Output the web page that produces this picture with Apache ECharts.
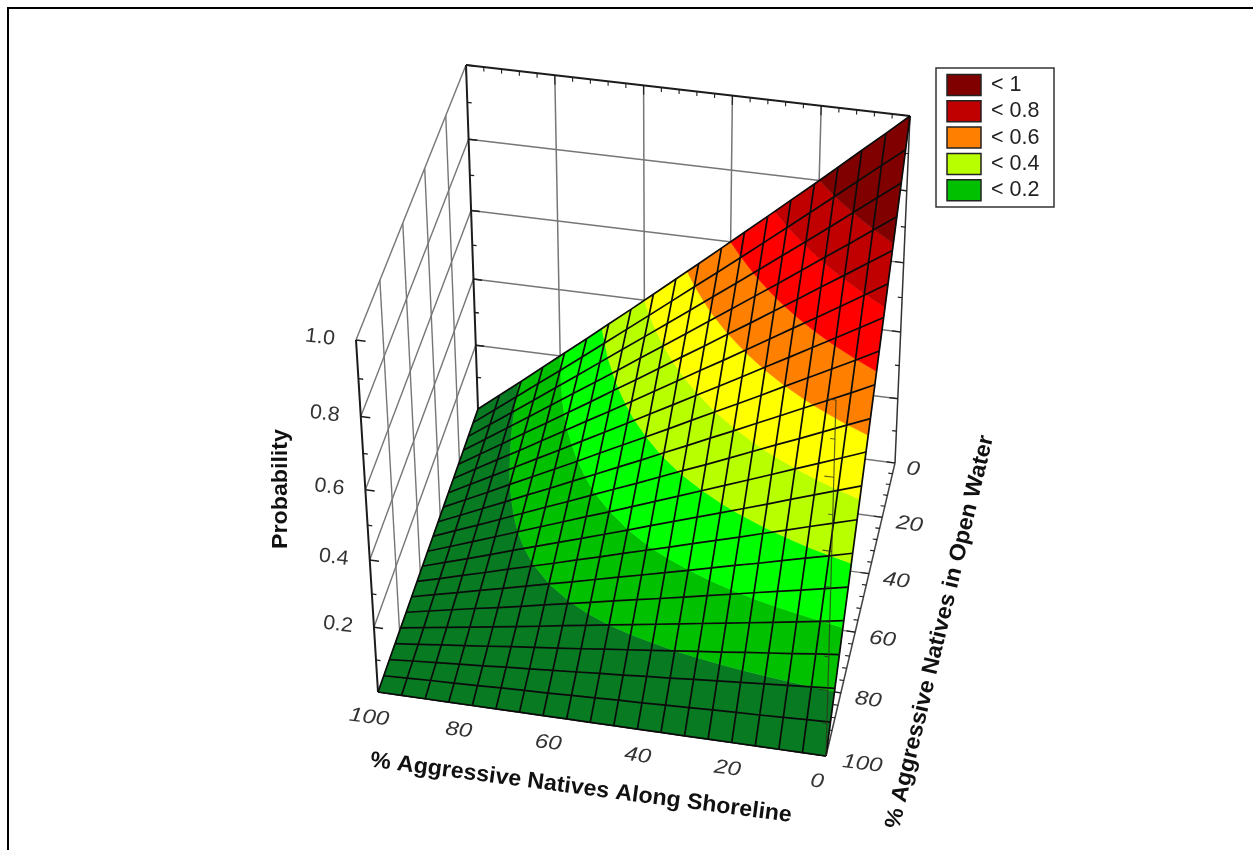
<!DOCTYPE html>
<html>
<head>
<meta charset="utf-8">
<style>html,body{margin:0;padding:0;background:#fff}#c{width:1253px;height:850px}</style>
<script src="https://cdn.jsdelivr.net/npm/echarts@6/dist/echarts.min.js"></script>
</head>
<body>
<div id="c"></div>
<script>
// ---- data ----
const shoreGrid = [0,5.26,10.53,15.79,21.05,26.32,31.58,36.84,42.11,47.37,52.63,57.89,63.16,68.42,73.68,78.95,84.21,89.47,94.74,100];
const waterGrid = [0,5.26,10.53,15.79,21.05,26.32,31.58,36.84,42.11,47.37,52.63,57.89,63.16,68.42,73.68,78.95,84.21,89.47,94.74,100];
// rows: waterGrid, columns: shoreGrid
const probability = [
[1.000,.947,.895,.842,.789,.737,.684,.632,.579,.526,.474,.421,.368,.316,.263,.211,.158,.105,.053,0],
[.947,.898,.848,.798,.748,.698,.648,.598,.548,.499,.449,.399,.349,.299,.249,.199,.150,.100,.050,0],
[.895,.848,.801,.753,.706,.659,.612,.565,.518,.471,.424,.377,.330,.283,.235,.188,.141,.094,.047,0],
[.842,.798,.753,.709,.665,.620,.576,.532,.488,.443,.399,.355,.310,.266,.222,.177,.133,.089,.044,0],
[.789,.748,.706,.665,.623,.582,.540,.499,.457,.416,.374,.332,.291,.249,.208,.166,.125,.083,.042,0],
[.737,.698,.659,.620,.582,.543,.504,.465,.427,.388,.349,.310,.271,.233,.194,.155,.116,.078,.039,0],
[.684,.648,.612,.576,.540,.504,.468,.432,.396,.360,.324,.288,.252,.216,.180,.144,.108,.072,.036,0],
[.632,.598,.565,.532,.499,.465,.432,.399,.366,.332,.299,.266,.233,.199,.166,.133,.100,.066,.033,0],
[.579,.548,.518,.488,.457,.427,.396,.366,.335,.305,.274,.244,.213,.183,.152,.122,.091,.061,.030,0],
[.526,.499,.471,.443,.416,.388,.360,.332,.305,.277,.249,.222,.194,.166,.139,.111,.083,.055,.028,0],
[.474,.449,.424,.399,.374,.349,.324,.299,.274,.249,.224,.199,.175,.150,.125,.100,.075,.050,.025,0],
[.421,.399,.377,.355,.332,.310,.288,.266,.244,.222,.199,.177,.155,.133,.111,.089,.066,.044,.022,0],
[.368,.349,.330,.310,.291,.271,.252,.233,.213,.194,.175,.155,.136,.116,.097,.078,.058,.039,.019,0],
[.316,.299,.283,.266,.249,.233,.216,.199,.183,.166,.150,.133,.116,.100,.083,.066,.050,.033,.017,0],
[.263,.249,.235,.222,.208,.194,.180,.166,.152,.139,.125,.111,.097,.083,.069,.055,.042,.028,.014,0],
[.211,.199,.188,.177,.166,.155,.144,.133,.122,.111,.100,.089,.078,.066,.055,.044,.033,.022,.011,0],
[.158,.150,.141,.133,.125,.116,.108,.100,.091,.083,.075,.066,.058,.050,.042,.033,.025,.017,.008,0],
[.105,.100,.094,.089,.083,.078,.072,.066,.061,.055,.050,.044,.039,.033,.028,.022,.017,.011,.006,0],
[.053,.050,.047,.044,.042,.039,.036,.033,.030,.028,.025,.022,.019,.017,.014,.011,.008,.006,.003,0],
[0,0,0,0,0,0,0,0,0,0,0,0,0,0,0,0,0,0,0,0]
];
const bandBreaks = [0,.1,.2,.3,.4,.5,.6,.7,.8,1.01];
const bandColors = ['#077a22','#00c000','#00ff00','#b8ff00','#ffff00','#ff8000','#ff0000','#c00000','#800000'];
const shoreTicks = [100,80,60,40,20,0];
const waterTicks = [0,20,40,60,80,100];
const probTicks = [0.2,0.4,0.6,0.8,1.0];
const probMinor = [0.1,0.3,0.5,0.7,0.9];
const legendLabels = ['< 1','< 0.8','< 0.6','< 0.4','< 0.2'];
const legendColors = ['#800000','#c00000','#ff8000','#b8ff00','#00c000'];
const titleShore = '% Aggressive Natives Along Shoreline';
const titleWater = '% Aggressive Natives in Open Water';
const titleProb = 'Probability';

// ---- view of the 3D box: [shore=100?][water=100?][top?] ----
const view = {
  '000':[895,463,1.00], '001':[910,116,0.91],
  '010':[826,756,0.91], '011':[836,400,0.82],
  '100':[478,409,1.00], '101':[466,65,0.91],
  '110':[378,692,0.91], '111':[356,340,0.82]
};
function project(s, w, z) {
  const a = s/100, b = w/100;
  let X = 0, Y = 0, H = 0;
  for (const k in view) {
    const c = view[k];
    const wt = (k[0]==='1'?a:1-a)*(k[1]==='1'?b:1-b)*(k[2]==='1'?z:1-z)*c[2];
    X += wt*c[0]; Y += wt*c[1]; H += wt;
  }
  return [X/H, Y/H];
}
function clipBand(poly, lo, hi) {
  function clip(pts, inside, bound) {
    const out = [];
    for (let i=0;i<pts.length;i++) {
      const A = pts[i], B = pts[(i+1)%pts.length];
      const ia = inside(A[2]), ib = inside(B[2]);
      if (ia) out.push(A);
      if (ia !== ib) {
        const t = (bound-A[2])/(B[2]-A[2]);
        out.push([A[0]+t*(B[0]-A[0]),A[1]+t*(B[1]-A[1]),bound]);
      }
    }
    return out;
  }
  let r = clip(poly, v=>v>=lo, lo);
  if (r.length) r = clip(r, v=>v<=hi, hi);
  return r;
}

const FONT = '"Liberation Sans", Arial, sans-serif';
const GRAY = '#767676', DARK = '#1c1c1c';
function seg(api, a, b, color, width) {
  const p = api.coord(project(a[0],a[1],a[2])), q = api.coord(project(b[0],b[1],b[2]));
  return {type:'line', shape:{x1:p[0],y1:p[1],x2:q[0],y2:q[1]}, style:{stroke:color,lineWidth:width}, silent:true};
}
function txt(api, pos, dx, dy, text, o) {
  const p = api.coord(pos);
  return {type:'text', x:p[0]+dx, y:p[1]+dy, rotation:(o.rot||0)*Math.PI/180, scaleX:o.sx||1, silent:true,
    style:{text:text, fontFamily:FONT, fontSize:o.size, fontWeight:o.weight||'normal', fontStyle:o.style||'normal',
      fill:o.fill||'#333', align:o.align||'center', verticalAlign:'middle'}};
}

function renderBox(params, api) {
  const ch = [];
  // back wall (water = 0)
  [80,60,40,20].forEach(s=>ch.push(seg(api,[s,0,0],[s,0,1],GRAY,1.5)));
  probTicks.slice(0,4).forEach(z=>ch.push(seg(api,[100,0,z],[0,0,z],GRAY,1.5)));
  // left wall (shore = 100)
  [20,40,60,80].forEach(w=>ch.push(seg(api,[100,w,0],[100,w,1],GRAY,1.4)));
  probTicks.slice(0,4).forEach(z=>ch.push(seg(api,[100,0,z],[100,100,z],GRAY,1.4)));
  ch.push(seg(api,[100,0,1],[100,100,1],GRAY,1.4));
  // floor
  [20,40,60,80].forEach(w=>ch.push(seg(api,[100,w,0],[0,w,0],GRAY,1.4)));
  ch.push(seg(api,[100,0,0],[0,0,0],GRAY,1.4));
  // frame edges with ticks
  ch.push(seg(api,[100,100,0],[100,100,1],DARK,2));
  ch.push(seg(api,[100,0,0],[100,0,1],DARK,2));
  ch.push(seg(api,[0,0,0],[0,0,1],'#333',1.5));
  ch.push(seg(api,[100,0,1],[0,0,1],DARK,2));
  ch.push(seg(api,[0,0,0],[0,100,0],'#444',1.5));
  ch.push(seg(api,[100,100,0],[0,100,0],DARK,1.6));
  probTicks.forEach(z=>{
    ch.push(seg(api,[100,100,z],[98,100,z],DARK,1.5));
    ch.push(seg(api,[100,0,z],[98,0,z],DARK,1.5));
    ch.push(seg(api,[0,0,z],[2,0,z],DARK,1.2));
  });
  probMinor.forEach(z=>{
    ch.push(seg(api,[100,100,z],[99,100,z],DARK,1.3));
    ch.push(seg(api,[100,0,z],[99,0,z],DARK,1.3));
    ch.push(seg(api,[0,0,z],[1,0,z],DARK,1.1));
  });
  for (let v=0;v<=100;v+=4) {
    ch.push(seg(api,[v,0,1],[v,0,v%20===0?0.975:0.988],DARK,1.1));
    ch.push(seg(api,[0,v,0],[v%20===0?2:1,v,0],DARK,1.1));
  }
  return {type:'group', children:ch};
}
function renderCell(params, api) {
  const i = api.value(0), j = api.value(1);
  const quad = [[i,j],[i+1,j],[i+1,j+1],[i,j+1]].map(q=>[shoreGrid[q[0]],waterGrid[q[1]],probability[q[1]][q[0]]]);
  const ch = [];
  bandColors.forEach((col,b)=>{
    const poly = clipBand(quad, bandBreaks[b], bandBreaks[b+1]);
    if (poly.length>2) ch.push({type:'polygon', silent:true,
      shape:{points:poly.map(v=>api.coord(project(v[0],v[1],v[2])))},
      style:{fill:col, stroke:col, lineWidth:0.5}});
  });
  return {type:'group', children:ch};
}
function renderMesh(params, api) {
  const idx = api.value(0), dir = api.value(1), pts = [];
  for (let k=0;k<20;k++) {
    const s = dir===0 ? shoreGrid[k] : shoreGrid[idx];
    const w = dir===0 ? waterGrid[idx] : waterGrid[k];
    const z = dir===0 ? probability[idx][k] : probability[k][idx];
    pts.push(api.coord(project(s,w,z)));
  }
  return {type:'polyline', silent:true, shape:{points:pts}, style:{stroke:'#0b0b0b', fill:null, lineWidth:1.7}};
}
function renderOver(params, api) {
  const ch = [seg(api,[0,100,0],[0,100,1],'rgba(50,50,30,0.75)',1.2)];
  ch.push(seg(api,[0,100,1],[2,100,1],'rgba(50,50,30,0.75)',1.2));
  probTicks.slice(0,4).forEach(z=>ch.push(seg(api,[0,100,z],[2,100,z],'rgba(50,50,30,0.75)',1.1)));
  probMinor.forEach(z=>ch.push(seg(api,[0,100,z],[1,100,z],'rgba(50,50,30,0.75)',1.0)));
  return {type:'group', children:ch};
}
function renderText(params, api) {
  const ch = [];
  const tick = {size:20, style:'italic', rot:-7, sx:1.2, fill:'#333'};
  shoreTicks.forEach(s=>ch.push(txt(api,project(s,100,0),-9,25.5,String(s),tick)));
  waterTicks.forEach(w=>ch.push(txt(api,project(0,w,0),11.5+String(w).length*2.5-2.5,5.5,String(w),Object.assign({},tick,{align:'left'}))));
  probTicks.forEach(z=>ch.push(txt(api,project(100,100,z),-36,-2.5,z.toFixed(1),Object.assign({},tick,{style:'normal',size:20.5,sx:1.05}))));
  const title = {size:22.5, weight:'bold', fill:'#111', sx:1.03};
  ch.push(txt(api,[581,788],0,0,titleShore,Object.assign({},title,{rot:-7.5})));
  ch.push(txt(api,[940,632],0,0,titleWater,Object.assign({},title,{rot:76.5})));
  ch.push(txt(api,[281,489],0,0,titleProb,Object.assign({},title,{rot:90})));
  return {type:'group', children:ch};
}
function renderLegend(params, api) {
  const ch = [];
  const tl = api.coord([936,68]), br = api.coord([1054,207]);
  ch.push({type:'rect', silent:true, shape:{x:tl[0],y:tl[1],width:br[0]-tl[0],height:br[1]-tl[1]}, style:{fill:'#fff',stroke:'#333',lineWidth:1.5}});
  legendLabels.forEach((t,i)=>{
    const y = 85 + i*26.3;
    const a = api.coord([947,y-10.5]);
    ch.push({type:'rect', silent:true, shape:{x:a[0],y:a[1],width:34,height:21}, style:{fill:legendColors[i],stroke:'#222',lineWidth:1.5}});
    ch.push(txt(api,[991,y],0,0,t,{size:21.5,align:'left',fill:'#222'}));
  });
  return {type:'group', children:ch};
}
function renderFrame(params, api) {
  const o = api.coord([8,8]), r = api.coord([1253,8]), b = api.coord([8,850]);
  const st = {stroke:'#000',lineWidth:2};
  return {type:'group', children:[
    {type:'line', silent:true, shape:{x1:o[0]-1,y1:o[1],x2:r[0],y2:r[1]}, style:st},
    {type:'line', silent:true, shape:{x1:o[0],y1:o[1],x2:b[0],y2:b[1]}, style:st}
  ]};
}

const cells = [];
for (let j=0;j<19;j++) for (let i=0;i<19;i++) cells.push([i,j]);
const mesh = [];
for (let k=0;k<20;k++) { mesh.push([k,0]); mesh.push([k,1]); }

const custom = (name, renderItem, data) => ({type:'custom', name, renderItem, data, coordinateSystem:'cartesian2d',
  clip:false, silent:true, animation:false, encode:{x:0,y:1}});

const chart = echarts.init(document.getElementById('c'), null, {renderer:'canvas', width:1253, height:850});
chart.setOption({
  animation:false,
  backgroundColor:'#fff',
  grid:{left:0,right:0,top:0,bottom:0},
  xAxis:{type:'value',min:0,max:1253,show:false},
  yAxis:{type:'value',min:0,max:850,inverse:true,show:false},
  series:[
    custom('frame',renderFrame,[[0,0]]),
    custom('box',renderBox,[[0,0]]),
    custom('surface',renderCell,cells),
    custom('mesh',renderMesh,mesh),
    custom('front edge',renderOver,[[0,0]]),
    custom('labels',renderText,[[0,0]]),
    custom('legend',renderLegend,[[0,0]])
  ]
});
</script>
</body>
</html>
